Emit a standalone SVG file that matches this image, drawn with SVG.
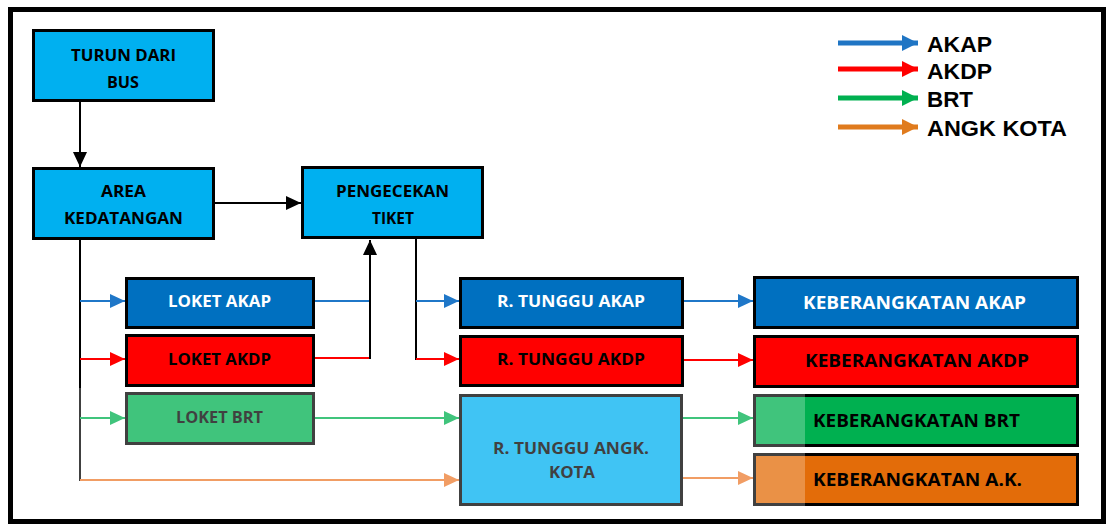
<svg xmlns="http://www.w3.org/2000/svg" width="1111" height="525" viewBox="0 0 1111 525">
<style>
.box{stroke:#000;stroke-width:3}
.t{font-family:"Open Sans","Liberation Sans",sans-serif;font-weight:bold;font-size:16px;fill:#000}
.k{font-family:"Open Sans","Liberation Sans",sans-serif;font-weight:bold;font-size:18px}
.w{fill:#fff}
.lg{font-family:"Liberation Sans","DejaVu Sans",sans-serif;font-weight:bold;font-size:22px;fill:#000}
.c{fill:none;stroke-width:2}
.lga{fill:none;stroke-width:5}
</style>
<defs>
<marker id="mk" markerUnits="userSpaceOnUse" markerWidth="15" markerHeight="14" refX="15" refY="7" orient="auto"><path d="M0,0 L15,7 L0,14 z" fill="#000"/></marker>
<marker id="mb" markerUnits="userSpaceOnUse" markerWidth="15" markerHeight="14" refX="15" refY="7" orient="auto"><path d="M0,0 L15,7 L0,14 z" fill="#1f77c8"/></marker>
<marker id="mr" markerUnits="userSpaceOnUse" markerWidth="15" markerHeight="14" refX="15" refY="7" orient="auto"><path d="M0,0 L15,7 L0,14 z" fill="#ff0000"/></marker>
<marker id="mg" markerUnits="userSpaceOnUse" markerWidth="15" markerHeight="14" refX="15" refY="7" orient="auto"><path d="M0,0 L15,7 L0,14 z" fill="#00b050"/></marker>
<marker id="mo" markerUnits="userSpaceOnUse" markerWidth="15" markerHeight="14" refX="15" refY="7" orient="auto"><path d="M0,0 L15,7 L0,14 z" fill="#ed7d31"/></marker>
<marker id="Lb" markerUnits="userSpaceOnUse" markerWidth="16" markerHeight="16" refX="16" refY="8" orient="auto"><path d="M0,0 L16,8 L0,16 z" fill="#1f75c4"/></marker>
<marker id="Lr" markerUnits="userSpaceOnUse" markerWidth="16" markerHeight="16" refX="16" refY="8" orient="auto"><path d="M0,0 L16,8 L0,16 z" fill="#ff0000"/></marker>
<marker id="Lg" markerUnits="userSpaceOnUse" markerWidth="16" markerHeight="16" refX="16" refY="8" orient="auto"><path d="M0,0 L16,8 L0,16 z" fill="#00b050"/></marker>
<marker id="Lo" markerUnits="userSpaceOnUse" markerWidth="16" markerHeight="16" refX="16" refY="8" orient="auto"><path d="M0,0 L16,8 L0,16 z" fill="#e07b1d"/></marker>
</defs>
<rect width="1111" height="525" fill="#fff"/>
<rect x="10.5" y="9.5" width="1093" height="512" fill="none" stroke="#000" stroke-width="5"/>

<g id="connectors">
<line class="c" x1="80" y1="101" x2="80" y2="167" stroke="#000" marker-end="url(#mk)"/>
<line class="c" x1="215" y1="203" x2="301" y2="203" stroke="#000" marker-end="url(#mk)"/>
<line class="c" x1="80" y1="240" x2="80" y2="481" stroke="#000"/>
<line class="c" x1="80" y1="301" x2="125" y2="301" stroke="#1f77c8" marker-end="url(#mb)"/>
<line class="c" x1="80" y1="359" x2="125" y2="359" stroke="#ff0000" marker-end="url(#mr)"/>
<line class="c" x1="80" y1="418" x2="125" y2="418" stroke="#00b050" marker-end="url(#mg)"/>
<line class="c" x1="80" y1="480" x2="459" y2="480" stroke="#ed7d31" marker-end="url(#mo)"/>
<line class="c" x1="315" y1="301" x2="371" y2="301" stroke="#1f77c8"/>
<line class="c" x1="315" y1="358" x2="371" y2="358" stroke="#ff0000"/>
<line class="c" x1="370" y1="359" x2="370" y2="240" stroke="#000" marker-end="url(#mk)"/>
<line class="c" x1="416" y1="239" x2="416" y2="360" stroke="#000"/>
<line class="c" x1="416" y1="301" x2="459" y2="301" stroke="#1f77c8" marker-end="url(#mb)"/>
<line class="c" x1="416" y1="359" x2="459" y2="359" stroke="#ff0000" marker-end="url(#mr)"/>
<line class="c" x1="315" y1="418" x2="459" y2="418" stroke="#00b050" marker-end="url(#mg)"/>
<line class="c" x1="684" y1="301" x2="753" y2="301" stroke="#1f77c8" marker-end="url(#mb)"/>
<line class="c" x1="684" y1="360" x2="753" y2="360" stroke="#ff0000" marker-end="url(#mr)"/>
<line class="c" x1="683" y1="418" x2="753" y2="418" stroke="#00b050" marker-end="url(#mg)"/>
<line class="c" x1="683" y1="478" x2="753" y2="478" stroke="#ed7d31" marker-end="url(#mo)"/>
</g>

<g id="turun"><rect class="box" x="33.5" y="30.5" width="180" height="70" fill="#00b0f0"/>
<text class="t" x="71" y="61" textLength="105" lengthAdjust="spacingAndGlyphs">TURUN DARI</text>
<text class="t" x="107" y="88" textLength="32" lengthAdjust="spacingAndGlyphs">BUS</text></g>

<g id="area"><rect class="box" x="33.5" y="168.5" width="180" height="70" fill="#00b0f0"/>
<text class="t" x="101" y="197" textLength="45" lengthAdjust="spacingAndGlyphs">AREA</text>
<text class="t" x="64" y="224" textLength="119" lengthAdjust="spacingAndGlyphs">KEDATANGAN</text></g>

<g id="pengecekan"><rect class="box" x="302.5" y="167.5" width="180" height="70" fill="#00b0f0"/>
<text class="t" x="336" y="197" textLength="113" lengthAdjust="spacingAndGlyphs">PENGECEKAN</text>
<text class="t" x="372" y="224" textLength="42" lengthAdjust="spacingAndGlyphs">TIKET</text></g>

<g id="loket-akap"><rect class="box" x="126.5" y="278.5" width="187" height="49" fill="#0070c0"/>
<text class="t w" x="168" y="307" textLength="103" lengthAdjust="spacingAndGlyphs">LOKET AKAP</text></g>

<g id="loket-akdp"><rect class="box" x="126.5" y="335.5" width="187" height="50" fill="#ff0000"/>
<text class="t" x="168" y="365" textLength="103" lengthAdjust="spacingAndGlyphs">LOKET AKDP</text></g>

<g id="loket-brt"><rect class="box" x="126.5" y="393.5" width="187" height="50" fill="#00b050"/>
<text class="t" x="176" y="423" textLength="87" lengthAdjust="spacingAndGlyphs">LOKET BRT</text></g>

<g id="tunggu-akap"><rect class="box" x="460.5" y="278.5" width="222" height="49" fill="#0070c0"/>
<text class="t w" x="497" y="307" textLength="148" lengthAdjust="spacingAndGlyphs">R. TUNGGU AKAP</text></g>

<g id="tunggu-akdp"><rect class="box" x="460.5" y="336.5" width="222" height="49" fill="#ff0000"/>
<text class="t" x="497" y="365" textLength="148" lengthAdjust="spacingAndGlyphs">R. TUNGGU AKDP</text></g>

<g id="tunggu-angk"><rect class="box" x="460.5" y="395.5" width="221" height="109" fill="#00b0f0"/>
<text class="t" x="493" y="454" textLength="156" lengthAdjust="spacingAndGlyphs">R. TUNGGU ANGK.</text>
<text class="t" x="549" y="478" textLength="46" lengthAdjust="spacingAndGlyphs">KOTA</text></g>

<g id="keb-akap"><rect class="box" x="754.5" y="277.5" width="323" height="50" fill="#0070c0"/>
<text class="k w" x="803" y="309" textLength="223" lengthAdjust="spacingAndGlyphs">KEBERANGKATAN  AKAP</text></g>

<g id="keb-akdp"><rect class="box" x="754.5" y="336.5" width="323" height="50" fill="#ff0000"/>
<text class="k" x="805" y="367" textLength="224" lengthAdjust="spacingAndGlyphs">KEBERANGKATAN  AKDP</text></g>

<g id="keb-brt"><rect class="box" x="754.5" y="395.5" width="323" height="50" fill="#00b050"/>
<text class="k" x="813" y="427" textLength="207" lengthAdjust="spacingAndGlyphs">KEBERANGKATAN  BRT</text></g>

<g id="keb-ak"><rect class="box" x="754.5" y="454.5" width="323" height="50" fill="#e36c09"/>
<text class="k" x="813" y="486" textLength="209" lengthAdjust="spacingAndGlyphs">KEBERANGKATAN  A.K.</text></g>

<g id="legend">
<line class="lga" x1="838" y1="43" x2="918" y2="43" stroke="#1f75c4" marker-end="url(#Lb)"/>
<line class="lga" x1="838" y1="69" x2="918" y2="69" stroke="#ff0000" marker-end="url(#Lr)"/>
<line class="lga" x1="838" y1="98" x2="918" y2="98" stroke="#00b050" marker-end="url(#Lg)"/>
<line class="lga" x1="838" y1="127" x2="918" y2="127" stroke="#e07b1d" marker-end="url(#Lo)"/>
<text class="lg" x="927" y="52" textLength="65" lengthAdjust="spacingAndGlyphs">AKAP</text>
<text class="lg" x="927" y="79" textLength="65" lengthAdjust="spacingAndGlyphs">AKDP</text>
<text class="lg" x="927" y="107" textLength="46" lengthAdjust="spacingAndGlyphs">BRT</text>
<text class="lg" x="927" y="136" textLength="140" lengthAdjust="spacingAndGlyphs">ANGK KOTA</text>
</g>

<rect x="13" y="388" width="792" height="131" fill="#fff" opacity="0.25"/>
</svg>
